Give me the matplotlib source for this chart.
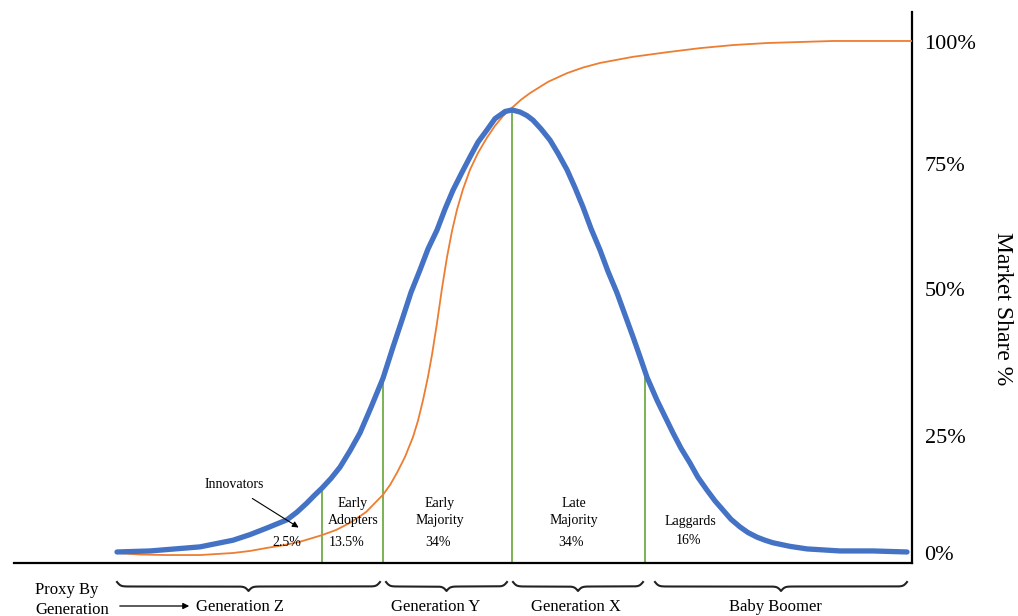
import numpy as np
import matplotlib
matplotlib.use("Agg")
import matplotlib.pyplot as plt

plt.rcParams['font.family'] = ['Liberation Serif', 'DejaVu Serif']

# ---------------- data (x in horizontal chart units, y in % market share) -------------
bell_x = [117, 150, 200, 233, 250, 267, 277, 287, 297, 307, 314, 322, 331, 340, 350, 360, 371,
          383, 393, 403, 411, 420, 428, 437, 445, 453, 462, 470, 478, 487, 495, 503, 505, 512,
          520, 527, 533, 541, 550, 558, 567, 575, 583, 591, 600, 608, 617, 625, 633, 640, 647,
          657, 665, 673, 681, 690, 698, 707, 715, 723, 731, 740, 748, 757, 765, 773, 790, 807,
          840, 873, 907]
bell_y = [0.2, 0.4, 1.2, 2.5, 3.6, 4.9, 5.7, 6.5, 8.0, 9.8, 11.2, 12.7, 14.6, 16.8, 20.0, 23.5,
          28.5, 34.2, 40.3, 46.2, 51.0, 55.4, 59.5, 63.2, 67.3, 71.0, 74.5, 77.5, 80.4, 82.8,
          85.0, 86.1, 86.4, 86.7, 86.3, 85.6, 84.7, 83.0, 80.8, 78.2, 75.0, 71.5, 67.7, 63.5,
          59.3, 55.1, 50.9, 46.6, 42.3, 38.4, 34.4, 29.9, 26.7, 23.5, 20.5, 17.6, 14.8, 12.3,
          10.2, 8.4, 6.6, 5.1, 4.0, 3.1, 2.5, 2.0, 1.3, 0.8, 0.4, 0.4, 0.2]

s_x = [117, 140, 167, 200, 233, 250, 267, 283, 300, 322, 336, 350, 366, 383, 390, 397, 405,
       413, 418, 423, 428, 432, 437, 442, 447, 452, 457, 463, 470, 478, 487, 495, 503, 513,
       521, 530, 548, 567, 583, 600, 633, 667, 700, 733, 767, 800, 833, 912]
s_y = [0.0, -0.3, -0.4, -0.4, 0.0, 0.4, 1.0, 1.5, 2.2, 3.5, 4.5, 5.9, 8.0, 11.4, 13.3, 15.7,
       18.8, 22.7, 25.9, 29.9, 34.5, 38.8, 45.0, 51.8, 57.9, 63.0, 67.2, 71.2, 75.0, 78.3,
       81.3, 83.6, 85.5, 87.3, 88.7, 90.0, 92.2, 93.9, 95.0, 95.9, 97.1, 98.0, 98.8, 99.4,
       99.8, 100.0, 100.2, 100.2]

divider_x = [322, 383, 512, 645]
divider_top = [12.7, 34.2, 86.7, 34.8]

tick_pos = [0, 22.9, 51.7, 76.1, 100]
tick_labels = ['0%', '25%', '50%', '75%', '100%']

segments = [("Early\nAdopters", "13.5%"), ("Early\nMajority", "34%"),
            ("Late\nMajority", "34%"), ("Laggards", "16%")]
innovators_label, innovators_pct = "Innovators", "2.5%"

generations = ["Generation Z", "Generation Y", "Generation X", "Baby Boomer"]
gen_start = [117, 386, 513, 655]
gen_end = [380, 507, 643, 907]

# ---------------- figure ----------------
W, H = 1018, 616
fig = plt.figure(figsize=(W / 100, H / 100), dpi=100)
fig.patch.set_facecolor('white')

ax = fig.add_axes([14 / W, (H - 563) / H, (912 - 14) / W, (563 - 12) / H])
ax.set_xlim(14, 912)
ax.set_ylim((553 - 563) / 511 * 100, (553 - 12) / 511 * 100)

ax.plot(s_x, s_y, color='#ED7D31', lw=1.3, zorder=3)
ax.plot(bell_x, bell_y, color='#4472C4', lw=3.8, solid_capstyle='round',
        solid_joinstyle='round', zorder=4)
ax.vlines(divider_x, ax.get_ylim()[0], divider_top, color='#70AD47', lw=1.3, zorder=2)

for side in ['top', 'left']:
    ax.spines[side].set_visible(False)
for side in ['bottom', 'right']:
    ax.spines[side].set_linewidth(1.6)
    ax.spines[side].set_color('black')
ax.set_xticks([])
ax.yaxis.tick_right()
ax.set_yticks(tick_pos, tick_labels)
ax.tick_params(axis='y', length=0, pad=9.0, labelsize=16)
for lab in ax.get_yticklabels():
    lab.set_horizontalalignment('left')

# ---------------- overlay for annotations (pixel coordinates) ----------------
ov = fig.add_axes([0, 0, 1, 1], zorder=5)
ov.set_xlim(0, W)
ov.set_ylim(H, 0)
ov.set_axis_off()

fs = 10
ov.text(1003, 309, "Market Share %", rotation=270, ha='center', va='center', fontsize=17)

ov.text(234, 485, innovators_label, ha='center', va='center', fontsize=fs)
ov.annotate("", xy=(301, 529), xytext=(250, 497),
            arrowprops=dict(arrowstyle='-|>', color='black', lw=0.8, mutation_scale=9))
ov.text(287, 543, innovators_pct, ha='center', va='center', fontsize=fs)

name_pos = [(353, 512), (440, 512), (574, 512), (690, 521)]
pct_pos = [(347, 542), (438, 542), (571, 542), (688, 540)]
for (name, pct), (nx, ny), (px, py) in zip(segments, name_pos, pct_pos):
    ov.text(nx, ny, name, ha='center', va='center', fontsize=fs, linespacing=1.4)
    ov.text(px, py, pct, ha='center', va='center', fontsize=fs)


def brace(x0, x1, ytop, depth):
    half = (x1 - x0) / 2
    xh = np.linspace(0, half, 300)
    beta = 0.55
    yh = 1 / (1 + np.exp(-beta * (xh - xh[0]))) + 1 / (1 + np.exp(-beta * (xh - xh[-1])))
    xs = np.concatenate([x0 + xh, x1 - xh[::-1]])
    ys = np.concatenate([yh, yh[::-1]])
    return xs, ytop + depth * (ys - 0.5)


gen_label_x = [240, 436, 576, 775]
for name, a, b, lx in zip(generations, gen_start, gen_end, gen_label_x):
    bx, by = brace(a, b, 582, 9)
    ov.plot(bx, by, color='#222222', lw=1.5)
    ov.text(lx, 607, name, ha='center', va='center', fontsize=12)

ov.text(67, 590, "Proxy By", ha='center', va='center', fontsize=12)
ov.text(72, 610, "Generation", ha='center', va='center', fontsize=12)
ov.annotate("", xy=(192, 606), xytext=(117, 606),
            arrowprops=dict(arrowstyle='-|>', color='black', lw=0.9, mutation_scale=9))

fig.savefig("out.png", dpi=100, facecolor='white')
